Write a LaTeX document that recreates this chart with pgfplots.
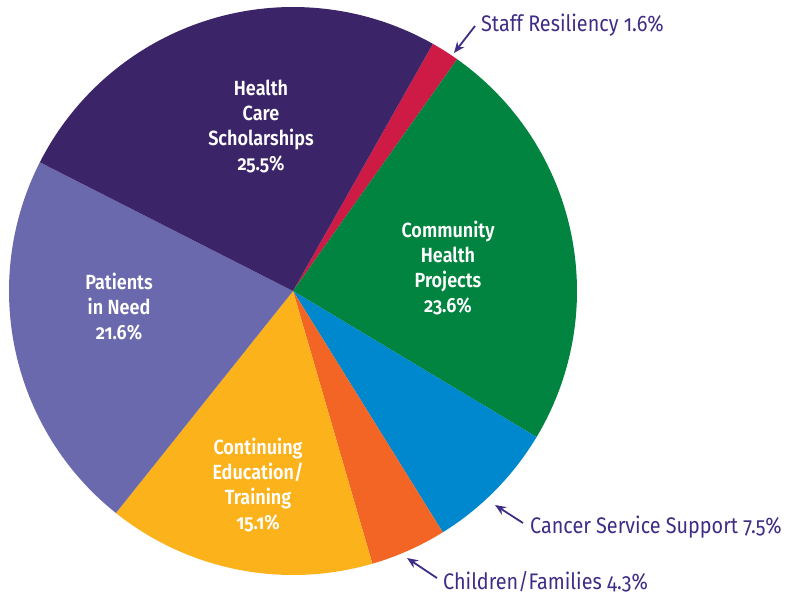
\documentclass[border=0pt]{standalone}
\usepackage{pgfplots}
\pgfplotsset{compat=1.18}
\usetikzlibrary{arrows.meta}
\usepackage{fontspec}
\setmainfont{Fira Sans}[Numbers=OldStyle, FakeStretch=0.88, BoldFont={Fira Sans SemiBold}]

\definecolor{cHealth}{HTML}{3B2468}
\definecolor{cStaff}{HTML}{CE1B45}
\definecolor{cCommunity}{HTML}{00843F}
\definecolor{cCancer}{HTML}{0088CE}
\definecolor{cChildren}{HTML}{F26524}
\definecolor{cContinuing}{HTML}{FBB21B}
\definecolor{cPatients}{HTML}{6A69AD}
\definecolor{cText}{HTML}{3F2C85}

% pie geometry in pixel units of the picture
\def\cx{293}
\def\cy{291}
\def\r{284}
\pgfmathsetmacro\k{360/99.2}
% slice from cumulative percent #1 to #2, clockwise from 60.5 degrees
\newcommand\slice[3]{%
  \addplot[fill=#3, draw=none, domain={60.5-#2*\k}:{60.5-#1*\k}, samples=80]
    ({\cx+\r*cos(x)}, {\cy-\r*sin(x)}) -- (\cx,\cy) -- cycle;}

\begin{document}
\begin{tikzpicture}
\begin{axis}[
    scale only axis, width=793bp, height=594bp,
    xmin=0, xmax=793, ymin=0, ymax=594, y dir=reverse,
    hide axis, clip=false,
  ]
  % shares: Staff 1.6, Community 23.6, Cancer 7.5, Children 4.3,
  % Continuing 15.1, Patients 21.6, Health Care 25.5
  \slice{0}{1.6}{cStaff}
  \slice{1.6}{25.2}{cCommunity}
  \slice{25.2}{32.7}{cCancer}
  \slice{32.7}{37.0}{cChildren}
  \slice{37.0}{52.1}{cContinuing}
  \slice{52.1}{73.7}{cPatients}
  \slice{73.7}{99.2}{cHealth}

  \tikzset{inlab/.style={text=white, align=center, inner sep=0pt,
      font=\fontsize{20.5bp}{25bp}\selectfont\bfseries},
    outlab/.style={text=cText, anchor=base west, inner sep=0pt,
      font=\fontsize{22.5bp}{25bp}\selectfont},
    arr/.style={draw=cText, line width=1.8bp, -{Stealth[length=11bp,width=9bp]}}}

  \node[inlab] at (261,126) {Health\\Care\\Scholarships\\25.5\%};
  \node[inlab] at (448,268) {Community\\Health\\Projects\\23.6\%};
  \node[inlab] at (119,307) {Patients\\in Need\\21.6\%};
  \node[inlab] at (258,485) {Continuing\\Education/\\Training\\15.1\%};

  \node[outlab] at (481,32) {Staff Resiliency 1.6\%};
  \node[outlab] at (530,533) {Cancer Service Support 7.5\%};
  \node[outlab] at (443,589) {Children/Families 4.3\%};

  \draw[arr] (475,26) -- (454,53);
  \draw[arr] (523,523) -- (495,505);
  \draw[arr] (437,578) -- (407,558);
\end{axis}
\path (current axis.south west) rectangle (current axis.north east);
\end{tikzpicture}
\end{document}
